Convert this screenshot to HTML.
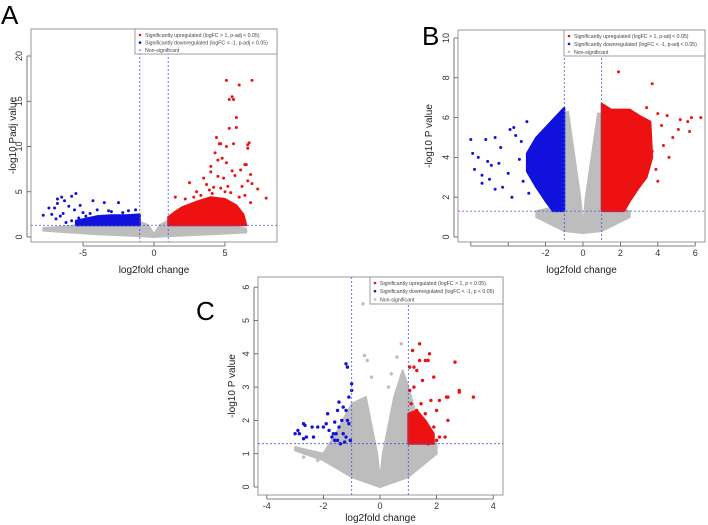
<!DOCTYPE html>
<html><head><meta charset="utf-8"><style>
html,body{margin:0;padding:0;background:#fff;}
svg{display:block;font-family:"Liberation Sans",sans-serif;}
</style></head><body>
<svg id="fig" width="708" height="525" viewBox="0 0 708 525"></svg>
<script>
// ---------- Panel A data ----------
const aGrayTop=[[-7.8,1.0],[-5,1.3],[-1.2,1.8],[-0.4,1.3],[0,0.3],[0.4,1.3],[1.2,2.0],[5,1.4],[6.5,0.9]];
const aGrayBot=[[6.5,0.5],[4,0.3],[1,0.1],[0,0],[-1,0.1],[-4,0.3],[-7.8,0.7]];
const aRedPoly=[[1,1.3],[1,2.2],[1.5,2.8],[2,3.3],[3,3.9],[4,4.4],[5,4.2],[5.8,3.5],[6.3,2.5],[6.5,1.3]];
const aBluePoly=[[-5.5,1.3],[-5.5,1.8],[-4,2.3],[-3,2.4],[-2,2.4],[-1,2.5],[-1,1.3]];
const aRedX=[5.1,6.9,6.0,5.5,5.6,5.3,5.8,5.3,5.8,4.4,4.6,4.7,5.6,6.7,6.6,5.1,6.6,4.3,4.8,4.5,5.1,6.4,6.5,4.0,5.5,6.8,4.0,3.5,4.5,6.1,2.5,4.9,5.7,6.6,6.9,7.3,7.9,6.8,3.0,4.2,5.2,1.5,2.2,6.4,3.7,3.3,2.8,3.9,4.7,5.4,6.2,6.0,5.0,4.1];
const aRedY=[17.3,17.3,16.8,15.5,15.2,15.2,13.2,12.0,12.1,11.0,10.3,10.3,10.3,10.4,10.2,10.0,9.8,9.3,8.7,8.5,8.2,8.0,8.0,7.8,7.3,6.9,7.2,6.5,6.7,7.4,6.0,6.5,6.8,6.2,5.9,5.3,4.3,3.8,5.0,5.5,5.6,4.4,4.2,4.6,5.8,4.6,4.4,5.2,5.4,4.9,5.6,4.4,5.0,4.8];
const aBlueX=[-5.5,-5.8,-6.8,-6.5,-6.3,-4.3,-7.4,-7.0,-6.8,-6.0,-5.2,-5.6,-3.5,-2.5,-1.3,-7.8,-6.4,-5.0,-4.0,-3.2,-6.9,-5.8,-7.2,-4.8,-6.2,-6.6,-5.3,-4.5,-3.0,-2.2,-1.8];
const aBlueY=[4.8,4.5,4.2,4.4,4.0,4.0,3.2,3.2,3.7,3.4,3.5,3.0,3.8,3.8,3.0,2.4,2.6,2.7,3.0,2.9,2.0,1.8,2.5,2.3,1.6,2.3,2.1,2.6,2.8,2.7,2.9];
const aXTicks=[-5,0,5], aYTicks=[0,5,10,15,20];
// ---------- Panel B data ----------
const bGrayTop=[[-2.5,1.3],[-1.5,1.5],[-1.05,6.2],[-0.8,6.3],[-0.15,2.0],[0,0.5],[0.15,2.0],[0.8,6.2],[1.05,6.2],[1.5,1.5],[2.5,1.3]];
const bGrayBot=[[2.5,1.0],[1,0.3],[0,0.2],[-1,0.3],[-2.5,1.0]];
const bRedPoly=[[1,1.3],[1,6.7],[1.5,6.4],[2.5,6.4],[3,6.1],[3.6,5.8],[3.7,4.0],[3.4,3.0],[3,2.5],[2.5,1.8],[2.2,1.3]];
const bBluePoly=[[-1,1.3],[-1,6.5],[-1.5,6.0],[-2,5.5],[-2.5,5.0],[-3,4.2],[-3,3.3],[-2.5,2.5],[-2,1.8],[-1.6,1.3]];
const bRedX=[1.9,3.7,5.8,6.3,5.2,5.6,4.5,4.0,3.4,5.7,4.8,4.3,4.6,3.9,4.0,3.7,3.3,2.9,3.1,5.1,4.2];
const bRedY=[8.3,7.7,6.0,6.0,5.9,5.8,6.1,6.2,6.5,5.3,5.0,4.6,4.0,3.4,2.8,4.3,3.6,2.9,3.8,5.4,5.6];
const bBlueX=[-6.0,-5.9,-5.8,-5.4,-5.0,-5.6,-5.2,-4.7,-4.4,-3.9,-3.7,-4.5,-4.0,-4.3,-3.8,-4.7,-5.4,-3.3,-3.4,-3.0,-3.2,-2.9,-2.7,-3.6,-4.9,-5.1];
const bBlueY=[4.9,4.2,3.4,3.1,2.9,4.0,4.9,5.0,4.5,5.4,5.5,3.7,3.2,2.5,2.0,2.4,2.7,4.8,3.9,5.8,2.8,2.2,4.3,5.1,3.6,3.8];
const bXTicks=[-6,-4,-2,0,2,4,6], bXLabels=["","","-2","0","2","4","6"], bYTicks=[0,2,4,6,8,10];
// ---------- Panel C data ----------
const cGrayTop=[[-3,1.2],[-2,1.0],[-1.5,1.7],[-1,2.5],[-0.5,2.7],[-0.1,1.0],[0,0.2],[0.1,1.0],[0.5,2.7],[0.8,3.5],[1.0,3.0],[1.5,1.5],[2,1.3]];
const cGrayBot=[[2,1.0],[1,0.3],[0,0],[-1,0.3],[-2,0.8],[-3,1.1]];
const cGrayX=[-0.6,0.75,-0.55,-0.45,0.6,0.3,-0.3,-2.7,-1.5,-2.2,0.4];
const cGrayY=[5.5,4.3,3.95,3.8,3.9,3.0,3.3,0.9,0.6,0.8,3.4];
const cRedPoly=[[1,1.3],[1,2.2],[1.3,2.3],[1.6,2.0],[1.9,1.6],[1.9,1.3]];
const cRedX=[1.4,1.15,1.75,1.6,1.4,1.05,1.2,1.3,1.7,1.5,1.9,2.65,2.8,2.8,3.3,2.4,2.35,2.1,1.8,2.0,2.4,1.6,1.9,2.1,2.3,2.0,1.7,1.5,1.3,1.1,1.2,1.05,1.45];
const cRedY=[4.3,4.1,4.0,3.8,3.8,3.6,3.6,3.5,3.8,3.2,3.3,3.75,2.9,2.85,2.7,2.7,2.7,2.6,2.6,2.3,2.0,2.2,1.8,1.5,1.5,1.4,1.3,1.7,2.3,2.5,3.0,2.9,2.5];
const cBlueX=[-1.2,-1.15,-1.0,-1.0,-1.1,-1.45,-1.3,-1.2,-1.5,-1.85,-1.35,-1.6,-1.9,-2.0,-2.2,-2.4,-2.7,-2.65,-2.9,-3.0,-2.85,-2.6,-2.35,-2.7,-1.7,-1.8,-1.55,-1.3,-1.5,-1.2,-1.1,-1.05,-1.4,-1.25,-1.65,-1.15,-1.6,-1.45];
const cBlueY=[3.7,3.6,3.1,2.9,2.7,2.55,2.4,2.3,2.3,2.2,2.0,1.95,1.9,1.8,1.8,1.8,1.9,1.85,1.7,1.6,1.6,1.5,1.5,1.45,1.5,1.7,1.6,1.6,1.4,1.5,1.9,1.4,1.3,1.35,1.6,2.0,1.4,1.8];
const cXTicks=[-4,-2,0,2,4], cYTicks=[0,1,2,3,4,5,6];

const NS="http://www.w3.org/2000/svg";
const svg=document.getElementById('fig');
function mk(tag,attrs,parent){const e=document.createElementNS(NS,tag);for(const k in attrs)e.setAttribute(k,attrs[k]);(parent||svg).appendChild(e);return e;}
const RED="#ee1111",BLUE="#1111dd",GRAY="#bdbdbd";

function panel(p){
  const g=mk('g',{});
  
  
  const sx=v=>p.x0+(v-p.xmin)*p.xs, sy=v=>p.y0-(v)*p.ys;
  const frame=mk('rect',{x:p.L,y:p.T,width:p.R-p.L,height:p.B-p.T,fill:'none',stroke:'#999','stroke-width':1},g);
  
  
  const poly=(arr,col,name)=>{const e=mk('polygon',{points:arr.map(d=>sx(d[0])+','+sy(d[1])).join(' '),fill:col,stroke:col,'stroke-width':2,'stroke-linejoin':'round'},g);
    
    };
  poly(p.grayTop.concat(p.grayBot),GRAY,p.id+'-nonsig-cloud');
  poly(p.bluePoly||[],BLUE,p.id+'-down-cluster');
  poly(p.redPoly,RED,p.id+'-up-cluster');
  const dots=(xs,ys,col,name)=>{xs.forEach((x,i)=>{const c=mk('circle',{cx:sx(x),cy:sy(ys[i]),r:p.r,fill:col},g);
    
    });};
  if(p.grayX)dots(p.grayX,p.grayY,GRAY,p.id+'-nonsig-point');
  dots(p.blueX,p.blueY,BLUE,p.id+'-down-point');
  dots(p.redX,p.redY,RED,p.id+'-up-point');
  [-1,1].forEach(v=>{const l=mk('line',{x1:sx(v),x2:sx(v),y1:p.T,y2:p.B,stroke:'#4455dd','stroke-width':0.8,'stroke-dasharray':'2,2'},g);
    
    });
  const hl=mk('line',{x1:p.L,x2:p.R,y1:sy(1.3),y2:sy(1.3),stroke:'#4455dd','stroke-width':0.8,'stroke-dasharray':'2,2'},g);
  
  
  p.xTicks.forEach((v,i)=>{const x=sx(v);
    mk('line',{x1:x,x2:x,y1:p.B,y2:p.B+4,stroke:'#555','stroke-width':0.8},g);
    const lab=p.xLabels?p.xLabels[i]:String(v);
    if(lab){const t=mk('text',{x:x,y:p.B+14,'font-size':9,'text-anchor':'middle',fill:'#333'},g);t.textContent=lab;
      
      }});
  mk('line',{x1:sx(p.xTicks[0]),x2:sx(p.xTicks[p.xTicks.length-1]),y1:p.B+4,y2:p.B+4,stroke:'#555','stroke-width':0.8},g);
  p.yTicks.forEach(v=>{const y=sy(v);
    mk('line',{x1:p.L-4,x2:p.L,y1:y,y2:y,stroke:'#555','stroke-width':0.8},g);
    const t=mk('text',{x:p.L-9,y:y,'font-size':9,'text-anchor':'middle',fill:'#333',transform:`rotate(-90 ${p.L-9} ${y})`},g);t.textContent=String(v);
    
    });
  mk('line',{x1:p.L-4,x2:p.L-4,y1:sy(p.yTicks[0]),y2:sy(p.yTicks[p.yTicks.length-1]),stroke:'#555','stroke-width':0.8},g);
  const xt=mk('text',{x:(p.L+p.R)/2,y:p.xtY,'font-size':10,'text-anchor':'middle',fill:'#222'},g);xt.textContent='log2fold change';
  
  
  const yc=(p.T+p.B)/2;
  const yt=mk('text',{x:p.ytX,y:yc,'font-size':10,'text-anchor':'middle',fill:'#222',transform:`rotate(-90 ${p.ytX} ${yc})`},g);yt.textContent=p.ytitle;
  
  
  const lg=mk('g',{},g);
  
  
  mk('rect',{x:p.lgX,y:p.T,width:p.R-p.lgX,height:p.lgH,fill:'#fff',stroke:'#888','stroke-width':0.8},lg);
  p.legend.forEach((s,i)=>{const yy=p.T+6+i*p.lgH/3.3;
    mk('circle',{cx:p.lgX+5,cy:yy,r:1.3,fill:[RED,BLUE,GRAY][i]},lg);
    const t=mk('text',{x:p.lgX+10,y:yy+2,'font-size':5.2,fill:'#444'},lg);t.textContent=s;
    
    });
  const L=mk('text',{x:p.letX,y:p.letY,'font-size':26,fill:'#000'},g);L.textContent=p.id;
  
  
}
const legAdj=["Significantly upregulated (logFC > 1, p-adj < 0.05)","Significantly downregulated (logFC < -1, p-adj < 0.05)","Non-significant"];
panel({id:'A',L:31,R:277,T:29,B:242,x0:154,xmin:0,xs:14.2,y0:237,ys:9.05,r:1.5,
  grayTop:aGrayTop,grayBot:aGrayBot,redPoly:aRedPoly,bluePoly:aBluePoly,redX:aRedX,redY:aRedY,blueX:aBlueX,blueY:aBlueY,
  xTicks:aXTicks,yTicks:aYTicks,xtY:273,ytX:16,ytitle:'-log10 Padj value',lgX:135,lgH:25,legend:legAdj,letX:1,letY:24});
panel({id:'B',L:458,R:705,T:30,B:242,x0:583,xmin:0,xs:18.7,y0:237,ys:19.9,r:1.5,
  grayTop:bGrayTop,grayBot:bGrayBot,redPoly:bRedPoly,bluePoly:bBluePoly,redX:bRedX,redY:bRedY,blueX:bBlueX,blueY:bBlueY,
  xTicks:bXTicks,xLabels:bXLabels,yTicks:bYTicks,xtY:273,ytX:432,ytitle:'-log10 P value',lgX:564,lgH:26,legend:legAdj,letX:422,letY:45});
panel({id:'C',L:258,R:503,T:277,B:495,x0:380,xmin:0,xs:28.3,y0:487,ys:33.3,r:1.7,
  grayTop:cGrayTop,grayBot:cGrayBot,grayX:cGrayX,grayY:cGrayY,redPoly:cRedPoly,bluePoly:[],redX:cRedX,redY:cRedY,blueX:cBlueX,blueY:cBlueY,
  xTicks:cXTicks,yTicks:cYTicks,xtY:521,ytX:235,ytitle:'-log10 P value',lgX:370,lgH:27,
  legend:["Significantly upregulated (logFC > 1, p < 0.05)","Significantly downregulated (logFC < -1, p < 0.05)","Non-significant"],letX:196,letY:320});
</script>
</body></html>
